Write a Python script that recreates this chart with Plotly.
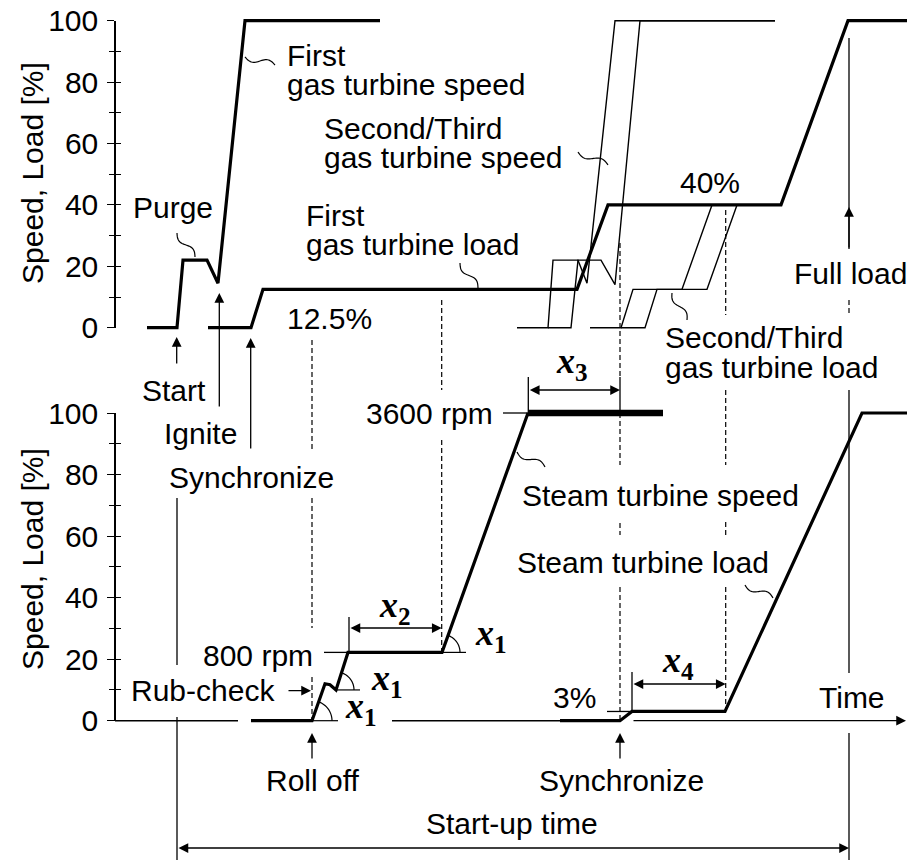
import numpy as np
import plotly.graph_objects as go

W, H = 907, 863

# ---------------- data (time in arbitrary units, speed / load in %) ----------------
# gas turbines (upper panel)
gt1_speed_t = [147, 177, 183, 207, 218, 245, 380]
gt1_speed = [0, 0, 22, 22, 14.5, 100, 100]
gt1_load_t = [208, 251, 263, 577, 608, 781, 848, 907]
gt1_load = [0, 0, 12.5, 12.5, 40, 40, 100, 100]
gt2_speed_t = [517, 548, 553, 578, 587, 615, 775]
gt2_speed = [0, 0, 22, 22, 14.5, 100, 100]
gt3_speed_t = [548, 571, 578, 601, 615, 640, 775]
gt3_speed = [0, 0, 22, 22, 14, 100, 100]
gt2_load_t = [590, 621, 633, 682, 712]
gt2_load = [0, 0, 12.5, 12.5, 40]
gt3_load_t = [621, 645, 657, 707, 737]
gt3_load = [0, 0, 12.5, 12.5, 40]

# steam turbine (lower panel)
st_speed_t = [251, 312, 325, 330, 336, 348, 442, 528]
st_speed = [0, 0, 12, 11.7, 10, 22.2, 22.2, 100]
st_hold_t = [528, 663]
st_hold = [100, 100]
st_load_t = [560, 620, 632, 725, 862, 907]
st_load = [0, 0, 3, 3, 100, 100]

y_ticks = [0, 20, 40, 60, 80, 100]
y_minor = [10, 30, 50, 70, 90]

# ---------------- layout geometry ----------------
SANS = "Liberation Sans, Arial, sans-serif"
SERIF = "Liberation Serif, Times New Roman, serif"
FS = 30
AXIS_X = 115
TOP_PX = (327.7, 20.7)     # screen rows of 0 % and 100 % in the upper panel
BOT_PX = (720.7, 413.0)    # screen rows of 0 % and 100 % in the lower panel


def full_range(px0, px100):
    f0 = (H - px0) / H
    f100 = (H - px100) / H
    span = 100 / (f100 - f0)
    r0 = -f0 * span
    return [r0, r0 + span]


def dom(px0, px100):
    return [(H - px0) / H, (H - px100) / H]


def bot_px(v):
    return BOT_PX[0] - v * (BOT_PX[0] - BOT_PX[1]) / 100


fig = go.Figure()

THICK, THIN = 3.2, 1.4


def curve(t, v, axis, width):
    fig.add_trace(go.Scatter(x=t, y=v, yaxis=axis, mode="lines",
                             line=dict(color="black", width=width),
                             hoverinfo="skip", showlegend=False))


curve(gt2_speed_t, gt2_speed, "y", THIN)
curve(gt3_speed_t, gt3_speed, "y", THIN)
curve(gt2_load_t, gt2_load, "y", THIN)
curve(gt3_load_t, gt3_load, "y", THIN)
curve(gt1_speed_t, gt1_speed, "y", THICK)
curve(gt1_load_t, gt1_load, "y", THICK)
curve(st_speed_t, st_speed, "y2", THICK)
curve(st_hold_t, st_hold, "y2", 6.5)
curve(st_load_t, st_load, "y2", THICK)

# placeholder traces so the overlay / tick axes exist
for ax in ["y3", "y4", "y5", "y6", "y7"]:
    fig.add_trace(go.Scatter(x=[None], y=[None], yaxis=ax, mode="lines",
                             hoverinfo="skip", showlegend=False))

shapes = []
annotations = []


def seg(x0, y0, x1, y1, width=THIN, dash=None, yref="y3"):
    shapes.append(dict(type="line", xref="x", yref=yref, x0=x0, y0=y0, x1=x1, y1=y1,
                       line=dict(color="black", width=width, dash=dash)))


def path(points, width=1.2):
    d = "M " + " L ".join(f"{x:.2f},{y:.2f}" for x, y in points)
    shapes.append(dict(type="path", xref="x", yref="y3", path=d,
                       line=dict(color="black", width=width)))


def squiggle(p0, p1, amp=3.2):
    p0, p1 = np.array(p0, float), np.array(p1, float)
    d = p1 - p0
    n = np.array([-d[1], d[0]]) / np.hypot(*d)
    s = np.linspace(0, 1, 30)
    pts = [p0 + si * d + amp * np.sin(2 * np.pi * si) * n for si in s]
    path(pts)


def arc(cx, cy, r, ang):
    th = np.linspace(0, ang, 20)
    path([(cx + r * np.cos(a), cy - r * np.sin(a)) for a in th])


def label(text, x, y, anchor="left", size=FS, family=SANS, weight=None):
    font = dict(family=family, size=size, color="black")
    if weight:
        font["weight"] = weight
    annotations.append(dict(text=text, x=x, y=y, xref="x", yref="y3",
                            xanchor=anchor, yanchor="middle", showarrow=False, font=font))


def arrow(x0, y0, x1, y1, both=False, yref="y3"):
    annotations.append(dict(text="", x=x1, y=y1, ax=x0, ay=y0, xref="x", yref=yref,
                            axref="x", ayref=yref, showarrow=True,
                            arrowhead=2, arrowsize=1.5, arrowwidth=1.3,
                            startarrowhead=2, startarrowsize=1.5,
                            arrowside="end+start" if both else "end",
                            arrowcolor="black", standoff=0, startstandoff=0))


# time axis of the lower panel
seg(AXIS_X, 0, 238, 0, yref="y2")
seg(392, 0, 560, 0, yref="y2")
arrow(632, 0, 906, 0, yref="y2")

# dashed event guides
DASH = "5px,3px"
for x, a, b in [(312, 340, 450), (312, 498, 628), (312, 677, 720),
                (441.7, 300, 390), (441.7, 440, 653),
                (620, 243, 377), (620, 413, 465), (620, 523, 535), (620, 587, 720),
                (725.7, 210, 315), (725.7, 390, 465), (725.7, 522, 537), (725.7, 587, 708),
                (849, 300, 315)]:
    seg(x, a, x, b, width=1.2, dash=DASH)

# solid guides
for x, a, b in [(177, 498, 665), (177, 717, 860), (849, 38, 249),
                (849, 390, 673), (849, 733, 860),
                (528.3, 377, 413), (620, 377, 413), (349, 617, 653), (632, 672, 710)]:
    seg(x, a, x, b, width=1.3)

# reference levels (800 rpm, 3600 rpm, 3 %)
seg(324, st_speed[5], st_speed_t[5], st_speed[5], width=1.3, yref="y2")
seg(503, st_hold[0], st_hold_t[0], st_hold[0], width=1.3, yref="y2")
seg(607, st_load[2], st_load_t[2], st_load[2], width=1.3, yref="y2")

# event arrows
arrow(176.7, 365, 176.7, 337)      # start
arrow(219.3, 408, 219.3, 293)      # ignite
arrow(250.7, 450, 250.7, 338)      # synchronize (gas turbine)
arrow(849, 249, 849, 207)          # full load
arrow(312, 760, 312, 733)          # roll off
arrow(620, 760, 620, 733)          # synchronize (steam turbine)
arrow(287, 690.7, 311, 690.7)      # rub-check

# interval dimensions
arrow(528.3, 390, 620, 390, both=True)
arrow(349, 628, 441.7, 628, both=True)
arrow(632, 684, 725.7, 684, both=True)
arrow(177, 848, 849, 848, both=True)

# ramp-angle marks on the steam turbine speed curve
for i, r in [(1, 20), (4, 18), (6, 18)]:
    cx, cy = st_speed_t[i], bot_px(st_speed[i])
    nx, ny = st_speed_t[i + 1], bot_px(st_speed[i + 1])
    ang = np.arctan2(cy - ny, nx - cx)
    seg(cx, cy, cx + r + 6, cy, width=1.2)
    arc(cx, cy, r, ang)

# leader squiggles
for p0, p1 in [((245, 57), (275, 65)), ((177, 233), (195, 257)), ((578, 152), (608, 165)),
               ((460, 263), (478, 288)), ((672, 293), (687, 320)), ((517, 452), (545, 467)),
               ((745, 585), (773, 598))]:
    squiggle(p0, p1)

# text
for text, x, y, anc in [
    ("First", 285, 55, "left"), ("gas turbine speed", 285, 84, "left"),
    ("Second/Third", 322, 128, "left"), ("gas turbine speed", 322, 157, "left"),
    ("Purge", 131, 207, "left"), ("First", 304, 215, "left"),
    ("gas turbine load", 304, 244, "left"), ("12.5%", 285, 318, "left"),
    ("40%", 678, 182, "left"), ("Full load", 792, 273, "left"),
    ("Second/Third", 663, 337, "left"), ("gas turbine load", 663, 367, "left"),
    ("Start", 140, 390, "left"), ("Ignite", 162, 433, "left"),
    ("Synchronize", 167, 477, "left"),
    ("3600 rpm", 495, 413, "right"), ("Steam turbine speed", 520, 495, "left"),
    ("Steam turbine load", 515, 562, "left"), ("800 rpm", 315, 655, "right"),
    ("Rub-check", 277, 690, "right"), ("3%", 598, 697, "right"),
    ("Time", 817, 697, "left"), ("Roll off", 312, 780, "center"),
    ("Synchronize", 621, 780, "center"), ("Start-up time", 512, 823, "center"),
]:
    label(text, x, y, anc)

for sub, x, y in [("1", 387, 680), ("1", 361, 708), ("1", 491, 635),
                  ("2", 395, 607), ("3", 572, 363), ("4", 678, 662)]:
    label(f"<i>x</i><sub>{sub}</sub>", x, y, "center", size=36, family=SERIF, weight="bold")

for y in [173, 559]:
    annotations.append(dict(text="Speed, Load [%]", x=32, y=y, xref="x", yref="y3",
                            xanchor="center", yanchor="middle", textangle=-90,
                            showarrow=False, font=dict(family=SANS, size=FS, color="black")))


def tick_axis(domain, labels):
    return dict(domain=domain, range=[0, 100], anchor="free", position=AXIS_X / W,
                side="left", showgrid=False, zeroline=False, fixedrange=True,
                automargin=False,
                showline=labels, linecolor="black", linewidth=1.5,
                tickmode="array", tickvals=y_ticks, ticks="outside" if labels else "inside",
                ticklen=7 if labels else 5, tickwidth=1.4, tickcolor="black",
                showticklabels=labels, ticklabelstandoff=3,
                tickfont=dict(family=SANS, size=FS, color="black"),
                minor=dict(tickmode="array", tickvals=y_minor,
                           ticks="outside" if labels else "inside", ticklen=5,
                           tickwidth=1.4, tickcolor="black", showgrid=False))


top_dom = dom(*TOP_PX)
bot_dom = dom(*BOT_PX)

fig.update_layout(
    width=W, height=H, autosize=False,
    margin=dict(l=0, r=0, t=0, b=0, pad=0, autoexpand=False),
    paper_bgcolor="white", plot_bgcolor="rgba(0,0,0,0)",
    showlegend=False,
    xaxis=dict(range=[0, W], domain=[0, 1], visible=False, fixedrange=True),
    yaxis=dict(range=full_range(*TOP_PX), domain=[0, 1], visible=False, fixedrange=True),
    yaxis2=dict(range=full_range(*BOT_PX), overlaying="y", visible=False, fixedrange=True),
    yaxis3=dict(range=[H, 0], overlaying="y", visible=False, fixedrange=True),
    yaxis4=tick_axis(top_dom, True),
    yaxis5=dict(tick_axis(top_dom, False), overlaying="y4"),
    yaxis6=tick_axis(bot_dom, True),
    yaxis7=dict(tick_axis(bot_dom, False), overlaying="y6"),
    shapes=shapes,
    annotations=annotations,
)

fig.write_html("out.html")
